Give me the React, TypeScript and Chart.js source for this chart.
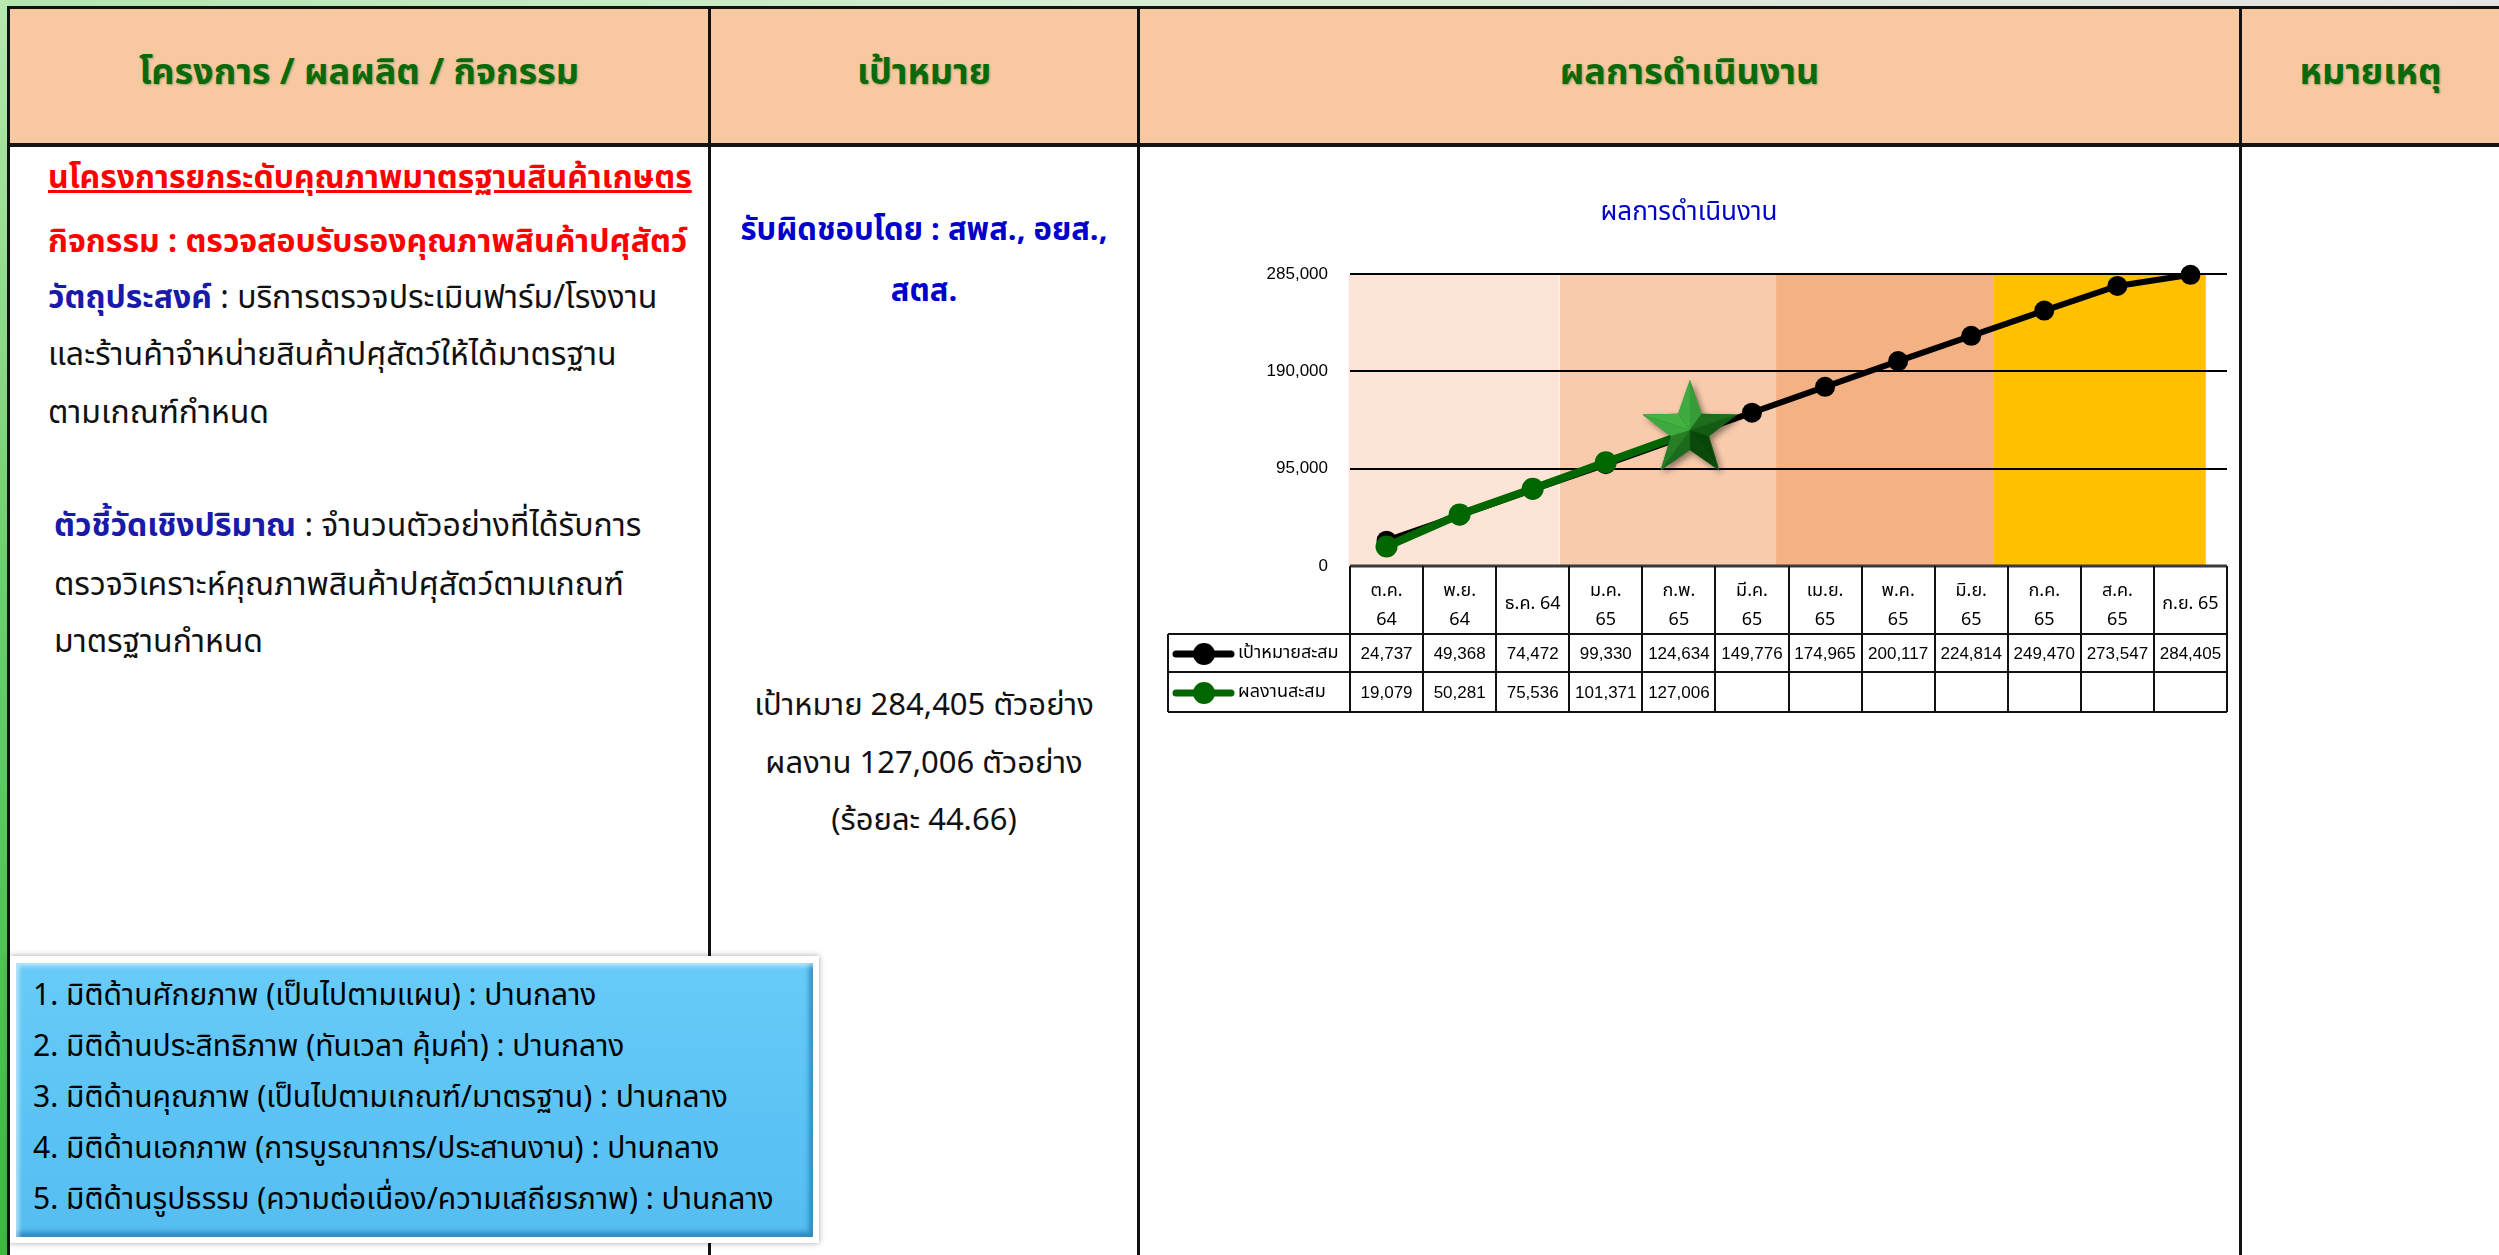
import React, { useEffect, useRef } from "react";
import { Chart, registerables } from "chart.js";

Chart.register(...registerables);

// ---------- data ----------
const monthLabels: string[][] = [
  ["ต.ค.", "64"], ["พ.ย.", "64"], ["ธ.ค. 64"], ["ม.ค.", "65"], ["ก.พ.", "65"], ["มี.ค.", "65"],
  ["เม.ย.", "65"], ["พ.ค.", "65"], ["มิ.ย.", "65"], ["ก.ค.", "65"], ["ส.ค.", "65"], ["ก.ย. 65"],
];
const targetValues: number[] = [24737, 49368, 74472, 99330, 124634, 149776, 174965, 200117, 224814, 249470, 273547, 284405];
const resultValues: (number | null)[] = [19079, 50281, 75536, 101371, 127006, null, null, null, null, null, null, null];
const seriesNames: string[] = ["เป้าหมายสะสม", "ผลงานสะสม"];
const yTickValues: number[] = [0, 95000, 190000, 285000];
const chartTitle = "ผลการดำเนินงาน";
// quarter background bands, in category units
const bandEdges: number[] = [-0.52, 2.37, 5.33, 8.3, 11.21];
const bandColors: string[] = ["#FCE4D6", "#F8CBAD", "#F4B183", "#FFC000"];

const headerTexts: string[] = ["โครงการ / ผลผลิต / กิจกรรม", "เป้าหมาย", "ผลการดำเนินงาน", "หมายเหตุ"];
const dimensionLines: string[] = [
  "1. มิติด้านศักยภาพ (เป็นไปตามแผน) : ปานกลาง",
  "2. มิติด้านประสิทธิภาพ (ทันเวลา คุ้มค่า) : ปานกลาง",
  "3. มิติด้านคุณภาพ (เป็นไปตามเกณฑ์/มาตรฐาน) : ปานกลาง",
  "4. มิติด้านเอกภาพ (การบูรณาการ/ประสานงาน) : ปานกลาง",
  "5. มิติด้านรูปธรรม (ความต่อเนื่อง/ความเสถียรภาพ) : ปานกลาง",
];

const FONT = 'Tahoma, "Noto Sans Thai", "Noto Sans", "DejaVu Sans", sans-serif';
const NUMFONT = '"Liberation Sans", "Noto Sans Thai", sans-serif';

const fmt = (v: number) => v.toLocaleString("en-US");

function makeStar(): HTMLCanvasElement {
  const c = document.createElement("canvas");
  c.width = 140;
  c.height = 140;
  const ctx = c.getContext("2d")!;
  const cx = 70 + 11, cy = 70 - 6, R = 50, r = 20;
  const pts: [number, number][] = [];
  for (let i = 0; i < 10; i++) {
    const a = -Math.PI / 2 + (i * Math.PI) / 5;
    const rad = i % 2 === 0 ? R : r;
    pts.push([cx + rad * Math.cos(a), cy + rad * Math.sin(a)]);
  }
  ctx.save();
  ctx.shadowColor = "rgba(0,0,0,0.45)";
  ctx.shadowBlur = 6;
  ctx.shadowOffsetX = 3;
  ctx.shadowOffsetY = 3;
  ctx.beginPath();
  pts.forEach((p, i) => (i === 0 ? ctx.moveTo(p[0], p[1]) : ctx.lineTo(p[0], p[1])));
  ctx.closePath();
  ctx.fillStyle = "#1E7A1E";
  ctx.fill();
  ctx.restore();
  const light = (-3 * Math.PI) / 4;
  for (let i = 0; i < 10; i++) {
    const p1 = pts[i], p2 = pts[(i + 1) % 10];
    const mx = (p1[0] + p2[0]) / 2 - cx, my = (p1[1] + p2[1]) / 2 - cy;
    const ang = Math.atan2(my, mx);
    const k = 0.5 + 0.5 * Math.cos(ang - light);
    const g = Math.round(70 + 110 * k);
    const rr = Math.round(8 + 60 * k);
    ctx.beginPath();
    ctx.moveTo(cx, cy);
    ctx.lineTo(p1[0], p1[1]);
    ctx.lineTo(p2[0], p2[1]);
    ctx.closePath();
    ctx.fillStyle = `rgb(${rr},${g},${rr})`;
    ctx.fill();
  }
  return c;
}

const CW = 1097;
const CH = 580;

function ChartBlock() {
  const ref = useRef<HTMLCanvasElement | null>(null);
  useEffect(() => {
    if (!ref.current) return;
    const star = makeStar();
    const lastIdx = resultValues.reduce((acc: number, v, i) => (v !== null ? i : acc), 0);

    const bandsPlugin = {
      id: "bands",
      beforeDraw(chart: any) {
        const { ctx, chartArea, scales } = chart;
        const x = scales.x;
        const step = (x.right - x.left) / monthLabels.length;
        const x0 = x.getPixelForValue(0);
        ctx.save();
        for (let i = 0; i < bandColors.length; i++) {
          const a = x0 + bandEdges[i] * step;
          const b = x0 + bandEdges[i + 1] * step;
          ctx.fillStyle = bandColors[i];
          ctx.fillRect(a, chartArea.top, b - a - (i === 0 ? 1 : 0), chartArea.bottom - chartArea.top);
        }
        ctx.restore();
      },
    };

    const tablePlugin = {
      id: "datatable",
      afterDraw(chart: any) {
        const { ctx, chartArea, scales } = chart;
        const x = scales.x;
        const n = monthLabels.length;
        const step = (x.right - x.left) / n;
        const top = chartArea.bottom;
        const hdrB = top + 68;
        const r1B = hdrB + 38;
        const r2B = r1B + 40;
        const legL = 27;
        const L = x.left, R = x.right;
        ctx.save();
        ctx.strokeStyle = "#3a3a3a";
        ctx.lineWidth = 3;
        ctx.beginPath();
        ctx.moveTo(L, top);
        ctx.lineTo(R, top);
        ctx.stroke();
        ctx.strokeStyle = "#111";
        ctx.lineWidth = 2;
        ctx.beginPath();
        ctx.moveTo(legL, hdrB); ctx.lineTo(R, hdrB);
        ctx.moveTo(legL, r1B); ctx.lineTo(R, r1B);
        ctx.moveTo(legL, r2B); ctx.lineTo(R, r2B);
        ctx.moveTo(legL, hdrB); ctx.lineTo(legL, r2B);
        for (let i = 0; i <= n; i++) {
          const px = Math.round(L + i * step);
          ctx.moveTo(px, top); ctx.lineTo(px, r2B);
        }
        ctx.stroke();
        ctx.fillStyle = "#000";
        ctx.textAlign = "center";
        ctx.textBaseline = "middle";
        ctx.font = `18px ${FONT}`;
        for (let i = 0; i < n; i++) {
          const cx = x.getPixelForValue(i);
          const lab = monthLabels[i];
          if (lab.length === 2) {
            ctx.fillText(lab[0], cx, top + 26);
            ctx.fillText(lab[1], cx, top + 55);
          } else {
            ctx.fillText(lab[0], cx, top + 39);
          }
        }
        ctx.font = `17px ${NUMFONT}`;
        const y1 = (hdrB + r1B) / 2 + 1, y2 = (r1B + r2B) / 2 + 1;
        for (let i = 0; i < n; i++) {
          const cx = x.getPixelForValue(i);
          ctx.fillText(fmt(targetValues[i]), cx, y1);
          const rv = resultValues[i];
          if (rv !== null) ctx.fillText(fmt(rv), cx, y2);
        }
        const keys = [
          { color: "#000000", y: y1, name: seriesNames[0] },
          { color: "#006600", y: y2, name: seriesNames[1] },
        ];
        keys.forEach((k) => {
          ctx.strokeStyle = k.color;
          ctx.lineWidth = 7;
          ctx.lineCap = "round";
          ctx.beginPath();
          ctx.moveTo(legL + 8, k.y);
          ctx.lineTo(legL + 63, k.y);
          ctx.stroke();
          ctx.fillStyle = k.color;
          ctx.beginPath();
          ctx.arc(legL + 36, k.y, 11, 0, Math.PI * 2);
          ctx.fill();
          ctx.fillStyle = "#000";
          ctx.textAlign = "left";
          ctx.font = `18px ${FONT}`;
          ctx.fillText(k.name, legL + 70, k.y);
        });
        ctx.restore();
      },
    };

    const chart = new Chart(ref.current, {
      type: "line",
      data: {
        labels: monthLabels,
        datasets: [
          {
            label: seriesNames[0],
            data: targetValues,
            borderColor: "#000000",
            backgroundColor: "#000000",
            borderWidth: 6,
            pointRadius: 10,
            pointBackgroundColor: "#000000",
            pointBorderColor: "#000000",
            pointBorderWidth: 0,
            order: 2,
            clip: false,
            tension: 0,
          } as any,
          {
            label: seriesNames[1],
            data: resultValues,
            borderColor: "#006600",
            backgroundColor: "#006600",
            borderWidth: 8,
            pointRadius: 11,
            pointBackgroundColor: "#006600",
            pointBorderColor: "#006600",
            pointBorderWidth: 0,
            pointStyle: resultValues.map((_, i) => (i === lastIdx ? star : "circle")) as any,
            order: 1,
            clip: false,
            tension: 0,
          } as any,
        ],
      },
      options: {
        responsive: false,
        animation: false,
        events: [],
        layout: { padding: { top: 0, left: 0, right: 1, bottom: CH - 416 } },
        plugins: {
          legend: { display: false },
          tooltip: { enabled: false },
          title: {
            display: true,
            text: chartTitle,
            color: "#0000CC",
            font: { size: 26, family: FONT, weight: "normal", lineHeight: 1.2 },
            padding: { top: 49, bottom: 44 },
          },
        },
        scales: {
          x: { type: "category", offset: true, display: false },
          y: {
            min: 0,
            max: 285000,
            afterFit: (s: any) => {
              s.width = 209;
            },
            afterBuildTicks: (s: any) => {
              s.ticks = yTickValues.map((v) => ({ value: v }));
            },
            border: { display: false },
            grid: { color: "#000000", lineWidth: 2, drawTicks: false },
            ticks: {
              padding: 22,
              color: "#000",
              font: { size: 17, family: NUMFONT },
              callback: (v: any) => fmt(Number(v)),
            },
          },
        },
      } as any,
      plugins: [bandsPlugin, tablePlugin],
    });
    return () => chart.destroy();
  }, []);
  return (
    <canvas
      ref={ref}
      width={CW}
      height={CH}
      style={{ position: "absolute", left: 1141, top: 150, width: CW, height: CH }}
    />
  );
}

const abs = (s: React.CSSProperties): React.CSSProperties => ({ position: "absolute", ...s });

function Line(props: { x: number; y: number; children: React.ReactNode; style?: React.CSSProperties; center?: boolean; w?: number }) {
  const h = 56;
  return (
    <div
      style={abs({
        left: props.x,
        top: props.y - h / 2,
        height: h,
        lineHeight: `${h}px`,
        whiteSpace: "nowrap",
        width: props.w,
        textAlign: props.center ? "center" : "left",
        ...props.style,
      })}
    >
      {props.children}
    </div>
  );
}

export default function App() {
  const body: React.CSSProperties = { fontSize: 32, color: "#111", fontFamily: FONT };
  const blue: React.CSSProperties = { color: "#1A1AA8", fontWeight: "bold" };
  return (
    <div
      style={abs({
        left: 0,
        top: 0,
        width: 2499,
        height: 1255,
        overflow: "hidden",
        background: "#fff",
        fontFamily: FONT,
      })}
    >
      {/* frame */}
      <div style={abs({ left: 0, top: 0, width: 2499, height: 7, background: "linear-gradient(to right,#B3E6AE,#D6EDD3 45%,#E4E4E4)" })} />
      <div style={abs({ left: 0, top: 0, width: 7, height: 1255, background: "linear-gradient(to bottom,#B8E8B0,#6CD06C 45%,#3DB83D)" })} />
      {/* header */}
      <div style={abs({ left: 8, top: 8, width: 2491, height: 137, background: "#F8C9A1" })} />
      <div style={abs({ left: 7, top: 6, width: 2492, height: 3, background: "#111" })} />
      <div style={abs({ left: 7, top: 143, width: 2492, height: 4, background: "#151515" })} />
      <div style={abs({ left: 7, top: 6, width: 3, height: 1249, background: "#111" })} />
      {[708, 1137, 2239].map((x) => (
        <div key={x} style={abs({ left: x, top: 6, width: 3, height: 1249, background: "#111" })} />
      ))}
      {[
        [10, 698],
        [711, 426],
        [1140, 1099],
        [2242, 257],
      ].map((c, i) => (
        <Line key={i} x={c[0]} y={73} w={c[1]} center style={{ fontSize: 36, fontWeight: "bold", color: "#0A690A", textShadow: "1px 1px 2px rgba(0,80,0,0.35)" }}>
          {headerTexts[i]}
        </Line>
      ))}

      {/* column 1 */}
      <div style={body}>
        <Line x={48} y={178} style={{ color: "#FF0000", fontWeight: "bold", textDecoration: "underline" }}>
          นโครงการยกระดับคุณภาพมาตรฐานสินค้าเกษตร
        </Line>
        <Line x={48} y={242} style={{ color: "#FF0000", fontWeight: "bold" }}>
          กิจกรรม : ตรวจสอบรับรองคุณภาพสินค้าปศุสัตว์
        </Line>
        <Line x={48} y={298}>
          <span style={blue}>วัตถุประสงค์</span> : บริการตรวจประเมินฟาร์ม/โรงงาน
        </Line>
        <Line x={48} y={355}>และร้านค้าจำหน่ายสินค้าปศุสัตว์ให้ได้มาตรฐาน</Line>
        <Line x={48} y={413}>ตามเกณฑ์กำหนด</Line>
        <Line x={54} y={526}>
          <span style={blue}>ตัวชี้วัดเชิงปริมาณ</span> : จำนวนตัวอย่างที่ได้รับการ
        </Line>
        <Line x={54} y={585}>ตรวจวิเคราะห์คุณภาพสินค้าปศุสัตว์ตามเกณฑ์</Line>
        <Line x={54} y={642}>มาตรฐานกำหนด</Line>
      </div>

      {/* column 2 */}
      <Line x={711} y={231} w={426} center style={{ fontSize: 31, fontWeight: "bold", color: "#0000CC" }}>
        รับผิดชอบโดย : สพส., อยส.,
      </Line>
      <Line x={711} y={292} w={426} center style={{ fontSize: 31, fontWeight: "bold", color: "#0000CC" }}>
        สตส.
      </Line>
      <Line x={711} y={706} w={426} center style={{ fontSize: 31, color: "#111" }}>
        เป้าหมาย 284,405 ตัวอย่าง
      </Line>
      <Line x={711} y={764} w={426} center style={{ fontSize: 31, color: "#111" }}>
        ผลงาน 127,006 ตัวอย่าง
      </Line>
      <Line x={711} y={821} w={426} center style={{ fontSize: 31, color: "#111" }}>
        (ร้อยละ 44.66)
      </Line>

      {/* chart */}
      <ChartBlock />

      {/* dimension box */}
      <div
        style={abs({
          left: 10,
          top: 956,
          width: 809,
          height: 287,
          background: "#fff",
          boxShadow: "0 0 6px rgba(0,0,0,0.35)",
        })}
      />
      <div
        style={abs({
          left: 16,
          top: 963,
          width: 797,
          height: 274,
          background: "linear-gradient(to bottom,#68CBF8,#5BC3F4 60%,#55BDF0)",
          boxShadow: "inset 3px 3px 4px rgba(255,255,255,0.55), inset -4px -5px 5px rgba(0,70,130,0.45)",
        })}
      />
      {dimensionLines.map((t, i) => (
        <Line key={i} x={33} y={996 + i * 51} style={{ fontSize: 30, color: "#000" }}>
          {t}
        </Line>
      ))}
    </div>
  );
}
